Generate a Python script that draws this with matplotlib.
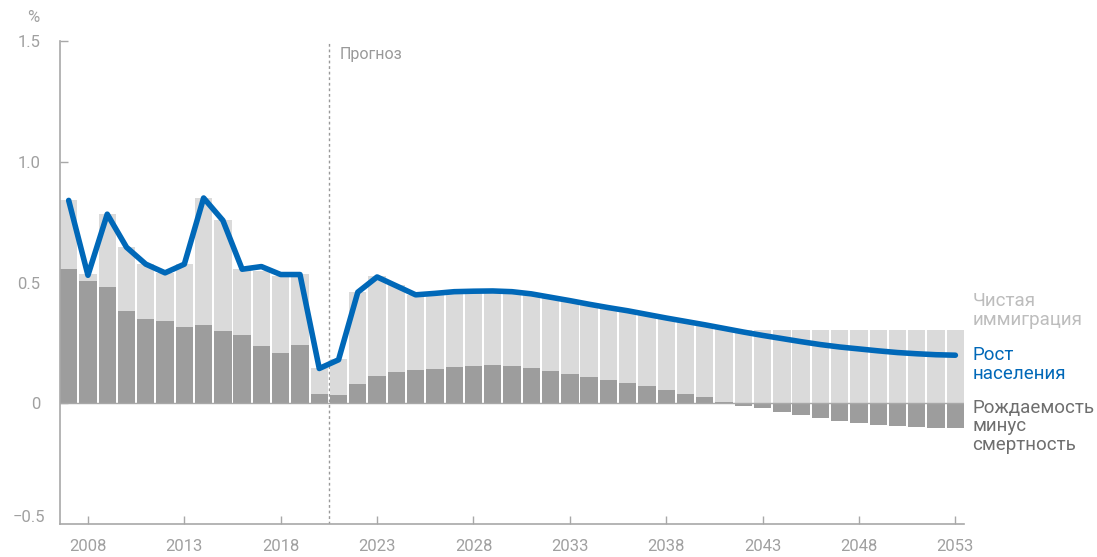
import matplotlib.pyplot as plt
import numpy as np

plt.rcParams['font.family'] = ['Roboto', 'DejaVu Sans']

years = list(range(2007, 2054))

# естественный прирост (рождаемость минус смертность), %
natural = [0.556, 0.507, 0.483, 0.380, 0.347, 0.339, 0.314, 0.326, 0.298, 0.281,
           0.236, 0.207, 0.240, 0.038, 0.034, 0.080, 0.112, 0.129, 0.137, 0.141,
           0.149, 0.153, 0.158, 0.153, 0.145, 0.133, 0.121, 0.108, 0.096, 0.084,
           0.071, 0.053, 0.037, 0.025, 0.005, -0.011, -0.020, -0.037, -0.048, -0.062,
           -0.073, -0.082, -0.089, -0.093, -0.097, -0.103, -0.103]

# чистая иммиграция, %
immigration = [0.284, 0.028, 0.300, 0.266, 0.229, 0.201, 0.262, 0.522, 0.460, 0.275,
               0.313, 0.321, 0.295, 0.110, 0.151, 0.380, 0.415, 0.361, 0.313, 0.314,
               0.313, 0.311, 0.307, 0.309, 0.308, 0.306, 0.304, 0.302, 0.300, 0.299,
               0.297, 0.303, 0.304, 0.305, 0.305, 0.305, 0.305, 0.305, 0.305, 0.305,
               0.305, 0.305, 0.305, 0.305, 0.305, 0.305, 0.305]

# рост населения, %
growth = [0.840, 0.530, 0.783, 0.646, 0.576, 0.540, 0.576, 0.850, 0.757, 0.555,
          0.566, 0.533, 0.533, 0.144, 0.180, 0.460, 0.523, 0.486, 0.449, 0.455,
          0.462, 0.464, 0.465, 0.462, 0.453, 0.439, 0.425, 0.410, 0.396, 0.383,
          0.368, 0.353, 0.339, 0.325, 0.310, 0.295, 0.281, 0.268, 0.255, 0.243,
          0.233, 0.225, 0.217, 0.210, 0.205, 0.201, 0.199]

forecast_start = 2020.5
tick_years = list(range(2008, 2054, 5))
y_ticks = [0, 0.5, 1.0, 1.5]
y_labels = ['0', '0.5', '1.0', '1.5']

dark = '#9d9d9d'
light = '#dadada'
blue = '#0068b8'
axis_grey = '#a8a8a8'

fig = plt.figure(figsize=(10.97, 5.57), dpi=100)
ax = fig.add_axes([0.0547, 0.0592, 0.8241, 0.8672])

nat = np.array(natural)
imm = np.array(immigration)
base = np.where(nat > 0, nat, 0)

ax.bar(years, nat, width=0.9, color=dark, linewidth=0, zorder=2)
ax.bar(years, imm, bottom=base, width=0.9, color=light, linewidth=0, zorder=2)
ax.axhline(0, color=axis_grey, lw=1, zorder=3)
ax.plot(years, growth, color=blue, lw=4, solid_capstyle='round', zorder=4)

ax.axvline(forecast_start, color='#999999', lw=1, ls=(0, (2, 2)), zorder=1)
ax.text(forecast_start + 0.55, 1.445, 'Прогноз', color='#999999', fontsize=11.5,
        va='center', ha='left')

ax.set_xlim(2006.55, 2053.45)
ax.set_ylim(-0.5, 1.5)

for s in ['top', 'right']:
    ax.spines[s].set_visible(False)
for s in ['left', 'bottom']:
    ax.spines[s].set_color(axis_grey)
    ax.spines[s].set_linewidth(1.2)

ax.set_xticks(tick_years)
ax.set_yticks(y_ticks)
ax.set_yticklabels(y_labels)
ax.tick_params(axis='x', direction='in', length=6, width=1, color=axis_grey,
               labelcolor='#a0a0a0', labelsize=12, pad=11)
ax.tick_params(axis='y', direction='in', length=6, width=1, color=axis_grey,
               labelcolor='#a0a0a0', labelsize=12, pad=14)

# нижняя подпись оси чуть приподнята над осью X, как в оригинале
ax.text(-15 / 904, -0.475, '\u22120.5', transform=ax.get_yaxis_transform(),
        color='#a0a0a0', fontsize=12, ha='right', va='center')

fig.text(33 / 1097, 1 - 18 / 557, '%', color='#a0a0a0', fontsize=12,
         ha='center', va='center')

trans = ax.get_yaxis_transform()
ax.text(1.009, 0.384, 'Чистая\nиммиграция', transform=trans, color='#bdbdbd',
        fontsize=13.5, ha='left', va='center', linespacing=1.05)
ax.text(1.009, 0.161, 'Рост\nнаселения', transform=trans, color=blue,
        fontsize=13.5, ha='left', va='center', linespacing=1.05)
ax.text(1.009, -0.095, 'Рождаемость\nминус\nсмертность', transform=trans,
        color='#6e6e6e', fontsize=13.5, ha='left', va='center', linespacing=1.05)

fig.savefig('out.png', dpi=100)
